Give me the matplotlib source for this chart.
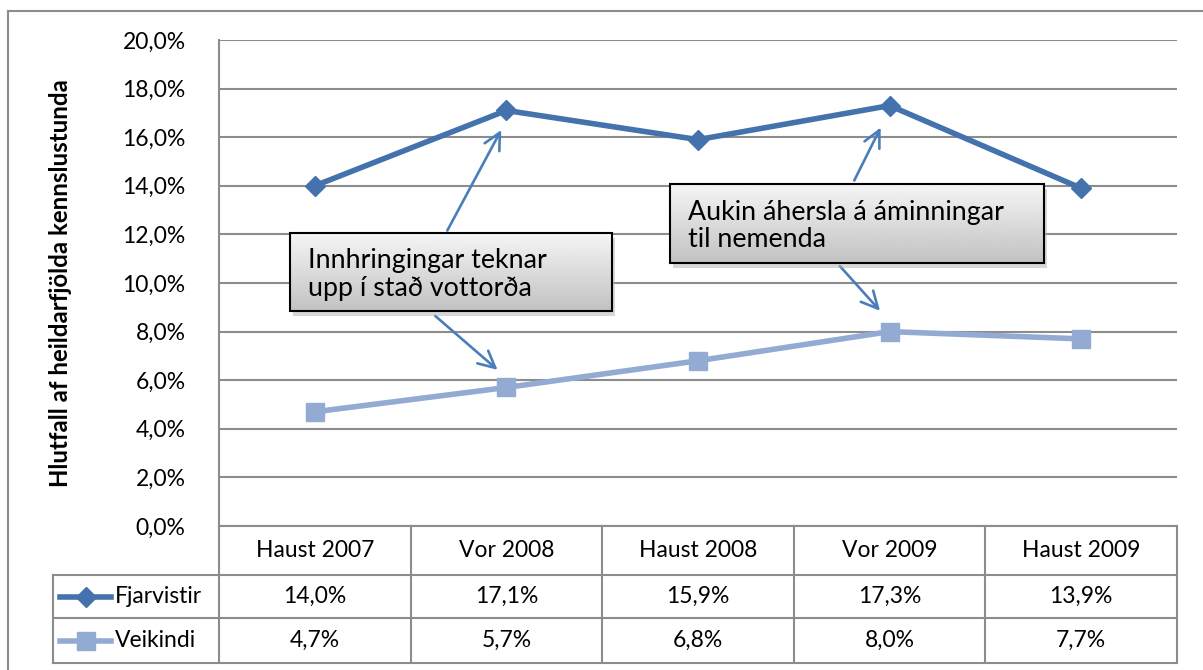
import numpy as np
import matplotlib
matplotlib.use("Agg")
from matplotlib import pyplot as plt
from matplotlib.patches import Rectangle
from matplotlib.lines import Line2D

# --------------- Data ---------------
terms = ["Haust 2007", "Vor 2008", "Haust 2008", "Vor 2009", "Haust 2009"]
fjarvistir = [14.0, 17.1, 15.9, 17.3, 13.9]
veikindi = [4.7, 5.7, 6.8, 8.0, 7.7]
series_names = ["Fjarvistir", "Veikindi"]

note1 = "Innhringingar teknar\nupp í stað vottorða"
note2 = "Aukin áhersla á áminningar\ntil nemenda"

plt.rcParams['font.family'] = ['Lato', 'DejaVu Sans']

c_dark = "#4472AC"
c_light = "#93ABD3"
c_arrow = "#4A7EBB"
c_grid = "#8C8C8C"

W, H = 1203, 670
fig = plt.figure(figsize=(W/100, H/100), dpi=100)

# plot area in pixels
L, R, T, B = 219, 1177, 40, 526
ax = fig.add_axes([L/W, 1 - B/H, (R-L)/W, (B-T)/H])

x = np.arange(len(terms))
ax.set_xlim(-0.5, len(terms) - 0.5)
ax.set_ylim(0, 20)

# grid
yt = np.arange(0, 20.1, 2)
for v in yt:
    ax.axhline(v, color=c_grid, lw=1.5, zorder=1)
ax.set_yticks(yt)
ax.set_yticklabels([f"{v:.1f}%".replace(".", ",") for v in yt], fontsize=16.5)
ax.tick_params(axis='y', length=0, pad=24)
ax.set_xticks([])
for s in ["top", "right", "bottom"]:
    ax.spines[s].set_visible(False)
ax.spines["left"].set_color(c_grid)
ax.spines["left"].set_linewidth(1.5)

ax.text((60 - L) / (R - L), 0.5, "Hlutfall af heildarfjölda kennslustunda",
        transform=ax.transAxes, rotation=90, ha='center', va='center',
        fontsize=17.3, fontweight='bold')

# lines
ax.plot(x, fjarvistir, color=c_dark, lw=4, marker='D', ms=10, zorder=5,
        clip_on=False)
ax.plot(x, veikindi, color=c_light, lw=4, marker='s', ms=13, zorder=5,
        clip_on=False)

# --------------- Data table below ---------------
px = (R - L) / len(terms)          # pixels per category
ypx = (B - T) / 20.0              # pixels per unit y
def ry(pix):                        # pixel row -> data y (below axis)
    return (B - pix) / ypx
def rx(pix):
    return (pix - L) / px - 0.5

row_edges = [B, 575, 618, 663]
leg_left = rx(53)
tbl_kw = dict(color=c_grid, lw=1.5, clip_on=False, zorder=2)
# horizontal lines
ax.plot([-0.5, 4.5], [ry(row_edges[0])] * 2, **tbl_kw)
for r in row_edges[1:]:
    ax.plot([leg_left, 4.5], [ry(r)] * 2, **tbl_kw)
# vertical lines
for k in range(len(terms) + 1):
    ax.plot([k - 0.5] * 2, [ry(row_edges[0]), ry(row_edges[-1])], **tbl_kw)
ax.plot([leg_left] * 2, [ry(row_edges[1]), ry(row_edges[-1])], **tbl_kw)

def mid(a, b):
    return ry((row_edges[a] + row_edges[b]) / 2)

for i, t in enumerate(terms):
    ax.text(i, mid(0, 1), t, ha='center', va='center', fontsize=16.5,
            clip_on=False)
for r, vals in enumerate([fjarvistir, veikindi]):
    for i, v in enumerate(vals):
        ax.text(i, mid(r + 1, r + 2), f"{v:.1f}%".replace(".", ","),
                ha='center', va='center', fontsize=16.5, clip_on=False)

# legend keys inside table
for r, (name, col, mk, ms) in enumerate([(series_names[0], c_dark, 'D', 10),
                                         (series_names[1], c_light, 's', 13)]):
    yy = mid(r + 1, r + 2)
    ax.plot([rx(60), rx(111)], [yy, yy], color=col, lw=4, clip_on=False)
    ax.plot([rx(86)], [yy], color=col, marker=mk, ms=ms, clip_on=False)
    ax.text(rx(115), yy, name, ha='left', va='center', fontsize=16.5,
            clip_on=False)

# --------------- Annotation boxes ---------------
grad = np.linspace(0.96, 0.76, 64).reshape(-1, 1)
def note_box(x0, x1, y0, y1, text):
    # shadow
    ax.add_patch(Rectangle((rx(x0) + 0.015, ry(y1) - 0.2), rx(x1) - rx(x0),
                           ry(y0) - ry(y1), facecolor='#b0b0b0', alpha=0.5,
                           edgecolor='none', zorder=6))
    ax.imshow(grad, cmap='gray', vmin=0, vmax=1, aspect='auto',
              extent=[rx(x0), rx(x1), ry(y1), ry(y0)], zorder=7)
    ax.add_patch(Rectangle((rx(x0), ry(y1)), rx(x1) - rx(x0), ry(y0) - ry(y1),
                           facecolor='none', edgecolor='black', lw=1.5,
                           zorder=8))
    ax.text(rx(x0 + 18), (ry(y0) + ry(y1)) / 2 - 0.1, text, ha='left',
            va='center', fontsize=19.3, linespacing=1.12, zorder=9)

note_box(290, 612, 233, 311, note1)
note_box(670, 1044, 184, 263, note2)

arr = dict(arrowstyle='->', color=c_arrow, lw=1.9, mutation_scale=30)
# notes point at the Vor 2008 and Vor 2009 points
ax.annotate("", xy=(1 - 0.02, fjarvistir[1] - 0.7), xytext=(rx(446), ry(233)),
            arrowprops=arr, zorder=5)
ax.annotate("", xy=(1 - 0.035, veikindi[1] + 0.65), xytext=(rx(433), ry(314)),
            arrowprops=arr, zorder=5)
ax.annotate("", xy=(3 - 0.04, fjarvistir[3] - 0.8), xytext=(rx(853), ry(183)),
            arrowprops=arr, zorder=5)
ax.annotate("", xy=(3 - 0.04, veikindi[3] + 0.77), xytext=(rx(838), ry(264)),
            arrowprops=arr, zorder=5)

ax.set_ylim(0, 20)
ax.set_xlim(-0.5, len(terms) - 0.5)

# outer chart border
fig.add_artist(Line2D([8/W, 8/W], [0, 1 - 11/H], color=c_grid, lw=1.5))
fig.add_artist(Line2D([8/W, 1], [1 - 11/H, 1 - 11/H], color=c_grid, lw=1.5))

fig.savefig("out.png", dpi=100)
